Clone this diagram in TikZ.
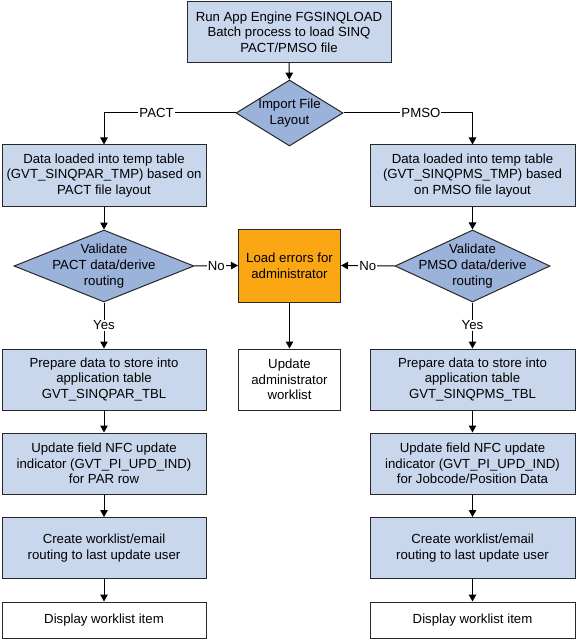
\documentclass[tikz,border=0pt]{standalone}
\usepackage{fontspec}
\setmainfont{Liberation Sans}
\usetikzlibrary{shapes.geometric,arrows.meta}
\definecolor{boxblue}{RGB}{201,215,236}
\definecolor{decblue}{RGB}{155,178,218}
\definecolor{errorange}{RGB}{251,166,19}
\definecolor{edge}{RGB}{40,40,40}

\begin{document}
\begin{tikzpicture}[x=1pt,y=1pt,yscale=-1,
  every node/.style={font=\fontsize{13.2}{15.6}\selectfont},
  proc/.style={draw=edge, line width=1pt, fill=boxblue, align=center, inner sep=0pt, minimum width=204pt, minimum height=61pt},
  plain/.style={proc, fill=white},
  decide/.style={diamond, draw=edge, line width=1pt, fill=decblue, inner sep=0pt},
  arr/.style={draw=black, line width=1pt, -{Triangle[length=7pt,width=7.5pt]}},
  lbl/.style={fill=white, inner sep=1pt}]
%set diagram size
\path[fill=white] (0,0) rectangle (576,639);
\useasboundingbox (0,0) rectangle (576,639);

% Start box and first decision
\node[proc] (run) at (289,32) {Run App Engine FGSINQLOAD\\Batch process to load SINQ\\PACT/PMSO file};
\node[decide, minimum width=107pt, minimum height=66pt, label={[align=center]center:Import File\\Layout}] (imp) at (289.5,113) {};

% Temp table boxes
\node[proc] (dataL) at (104,175.5) {Data loaded into temp table\\(GVT\_SINQPAR\_TMP) based on\\PACT file layout};
\node[proc, minimum width=205pt] (dataR) at (472.5,175.5) {Data loaded into temp table\\(GVT\_SINQPMS\_TMP) based\\on PMSO file layout};

% Validation and errors
\node[decide, minimum width=180pt, minimum height=72pt, label={[align=center]center:Validate\\PACT data/derive\\routing}] (valL) at (104,266) {};
\node[decide, minimum width=155pt, minimum height=72pt, label={[align=center]center:Validate\\PMSO data/derive\\routing}] (valR) at (472.5,266) {};
\node[proc, fill=errorange, minimum width=102pt, minimum height=73pt] (err) at (289.5,265.5) {Load errors for\\administrator};
\node[plain, minimum width=102pt] (adm) at (289.5,379.5) {Update\\administrator\\worklist};

% Left column
\node[proc] (prepL) at (104,379.5) {Prepare data to store into\\application table\\GVT\_SINQPAR\_TBL};
\node[proc] (updL) at (104,463.5) {Update field NFC update\\indicator (GVT\_PI\_UPD\_IND)\\for PAR row};
\node[proc] (wlL) at (104,548) {Create worklist/email\\routing to last update user};
\node[plain, minimum height=36pt] (dispL) at (104,620) {Display worklist item};

% Right column
\node[proc, minimum width=205pt] (prepR) at (472.5,379.5) {Prepare data to store into\\application table\\GVT\_SINQPMS\_TBL};
\node[proc, minimum width=205pt] (updR) at (472.5,463.5) {Update field NFC update\\indicator (GVT\_PI\_UPD\_IND)\\for Jobcode/Position Data};
\node[proc, minimum width=205pt] (wlR) at (472.5,548) {Create worklist/email\\routing to last update user};
\node[plain, minimum width=205pt, minimum height=36pt] (dispR) at (472.5,620) {Display worklist item};

% Connectors
\draw[arr] (run) -- (imp);
\draw[arr] (imp.west) -| node[lbl, pos=0.3] {PACT} (dataL.north);
\draw[arr] (imp.east) -| node[lbl, pos=0.3] {PMSO} (dataR.north);
\draw[arr] (dataL) -- (valL);
\draw[arr] (dataR) -- (valR);
\draw[arr] (valL.east) -- node[lbl] {No} (err.west);
\draw[arr] (valR.west) -- node[lbl] {No} (err.east);
\draw[arr] (err) -- (adm);
\draw[arr] (valL.south) -- node[lbl] {Yes} (prepL.north);
\draw[arr] (valR.south) -- node[lbl] {Yes} (prepR.north);
\draw[arr] (prepL) -- (updL);
\draw[arr] (updL) -- (wlL);
\draw[arr] (wlL) -- (dispL);
\draw[arr] (prepR) -- (updR);
\draw[arr] (updR) -- (wlR);
\draw[arr] (wlR) -- (dispR);
\end{tikzpicture}
\end{document}
